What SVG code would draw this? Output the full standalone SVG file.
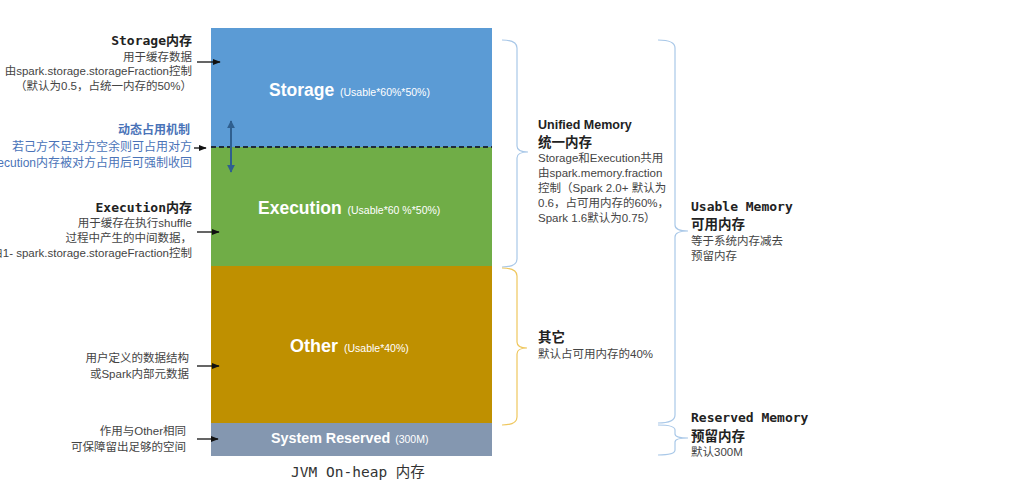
<svg xmlns="http://www.w3.org/2000/svg" width="1015" height="499" viewBox="0 0 1015 499">
<defs>
<marker id="ah" viewBox="0 0 10 10" refX="9" refY="5" markerWidth="6" markerHeight="6" orient="auto-start-reverse"><path d="M0,1 L10,5 L0,9 z" fill="#111"/></marker>
<marker id="ahb" viewBox="0 0 10 10" refX="9" refY="5" markerWidth="4" markerHeight="4" orient="auto-start-reverse"><path d="M0,0 L10,5 L0,10 z" fill="#2f5f8f"/></marker>
<style>
.ttl{font-family:"DejaVu Sans Mono","Noto Sans CJK SC",monospace;font-weight:bold;font-size:13px;fill:#222}
.bd{font-family:"Liberation Sans","Noto Sans CJK SC",sans-serif;font-size:11.5px;fill:#444}
.bdr{font-family:"Liberation Sans","Noto Sans CJK SC",sans-serif;font-size:11.5px;fill:#444}
.bdb{font-family:"Liberation Sans","Noto Sans CJK SC",sans-serif;font-size:12.5px;font-weight:bold;fill:#222}
.cjb{font-family:"Noto Sans CJK SC",sans-serif;font-size:13.5px;font-weight:bold;fill:#222}
.blk{font-family:"Liberation Sans",sans-serif;font-weight:bold;fill:#fff}
.sm{font-family:"Liberation Sans",sans-serif;font-size:10.5px;font-weight:normal;fill:#fff}
.blue{font-family:"Liberation Sans","Noto Sans CJK SC",sans-serif;font-size:12px;fill:#4a73b8}
.arr{stroke:#111;stroke-width:1.3;fill:none}
.brace{fill:none;stroke-width:1.2}
</style>
</defs>
<rect width="1015" height="499" fill="#fff"/>

<g id="storage">
<rect x="211" y="28" width="281" height="119" fill="#5b9bd5"/>
<text x="269" y="96" class="blk" font-size="17.5">Storage <tspan class="sm" dx="1">(Usable*60%*50%)</tspan></text>
</g>
<g id="execution">
<rect x="211" y="147" width="281" height="119" fill="#70ad47"/>
<text x="258" y="214" class="blk" font-size="17.5">Execution <tspan class="sm" dx="1">(Usable*60 %*50%)</tspan></text>
</g>
<g id="other">
<rect x="211" y="266" width="281" height="157" fill="#bf9000"/>
<text x="290" y="352" class="blk" font-size="18">Other <tspan class="sm" dx="1">(Usable*40%)</tspan></text>
</g>
<g id="reserved">
<rect x="211" y="423" width="281" height="33" fill="#8497b0"/>
<text x="271" y="443" class="blk" font-size="14.3">System Reserved <tspan class="sm" dx="1">(300M)</tspan></text>
</g>
<text x="358" y="477" text-anchor="middle" font-family="DejaVu Sans Mono,Noto Sans CJK SC,monospace" font-size="14.5" fill="#333">JVM On-heap 内存</text>

<g id="connectors">
<line x1="211" y1="147" x2="492" y2="147" stroke="#1e2b38" stroke-width="2" stroke-dasharray="5,3"/>
<line x1="231" y1="121" x2="231" y2="172" stroke="#2f5f8f" stroke-width="2" marker-start="url(#ahb)" marker-end="url(#ahb)"/>
<line x1="197" y1="62" x2="220" y2="62" class="arr" marker-end="url(#ah)"/>
<line x1="194" y1="148" x2="206" y2="148" class="arr" marker-end="url(#ah)"/>
<line x1="197" y1="232" x2="219" y2="232" class="arr" marker-end="url(#ah)"/>
<line x1="197" y1="366" x2="219" y2="366" class="arr" marker-end="url(#ah)"/>
<line x1="197" y1="439" x2="218" y2="439" class="arr" marker-end="url(#ah)"/>
<path class="brace" stroke="#a9c8e8" d="M502,40 Q517,40 517,48 L517,146 Q517,152 528,152 Q517,152 517,158 L517,259 Q517,267 502,267"/>
<path class="brace" stroke="#efc75e" d="M502,268 Q517,268 517,276 L517,342 Q517,348 527,348 Q517,348 517,354 L517,417 Q517,425 502,425"/>
<path class="brace" stroke="#a9c8e8" d="M658,40 Q675,40 675,48 L675,225 Q675,231 688,231 Q675,231 675,237 L675,415 Q675,423 658,423"/>
<path class="brace" stroke="#a9c8e8" d="M658,425 Q675,425 675,430 L675,434 Q675,438 688,438 Q675,438 675,442 L675,450 Q675,455 658,455"/>
</g>

<g id="storage-note">
<text x="192" y="45" text-anchor="end" class="ttl">Storage内存</text>
<text x="192" y="61" text-anchor="end" class="bd">用于缓存数据</text>
<text x="192" y="75" text-anchor="end" class="bd" font-size="11.2">由spark.storage.storageFraction控制</text>
<text x="192" y="90" text-anchor="end" class="bd">（默认为0.5，占统一内存的50%）</text>
</g>
<g id="dynamic-note">
<text x="190" y="134" text-anchor="end" class="blue" font-size="13.5" font-weight="bold">动态占用机制</text>
<text x="192" y="151" text-anchor="end" class="blue">若己方不足对方空余则可占用对方</text>
<text x="192" y="167" text-anchor="end" class="blue">Execution内存被对方占用后可强制收回</text>
</g>
<g id="execution-note">
<text x="192" y="212" text-anchor="end" class="ttl">Execution内存</text>
<text x="192" y="227" text-anchor="end" class="bd">用于缓存在执行shuffle</text>
<text x="192" y="242" text-anchor="end" class="bd">过程中产生的中间数据，</text>
<text x="192" y="257" text-anchor="end" class="bd" font-size="11.2">由1- spark.storage.storageFraction控制</text>
</g>
<g id="other-note">
<text x="189" y="362" text-anchor="end" class="bd">用户定义的数据结构</text>
<text x="189" y="378" text-anchor="end" class="bd">或Spark内部元数据</text>
</g>
<g id="reserved-note">
<text x="186" y="435" text-anchor="end" class="bd">作用与Other相同</text>
<text x="186" y="451" text-anchor="end" class="bd">可保障留出足够的空间</text>
</g>

<g id="unified">
<text x="538" y="129" class="bdb">Unified Memory</text>
<text x="538" y="147" class="cjb">统一内存</text>
<text x="538" y="162" class="bdr">Storage和Execution共用</text>
<text x="538" y="177" class="bdr">由spark.memory.fraction</text>
<text x="538" y="192" class="bdr">控制（Spark 2.0+ 默认为</text>
<text x="538" y="207" class="bdr">0.6，占可用内存的60%，</text>
<text x="538" y="222" class="bdr">Spark 1.6默认为0.75）</text>
</g>
<g id="other-brace">
<text x="538" y="342" class="cjb">其它</text>
<text x="538" y="358" class="bdr">默认占可用内存的40%</text>
</g>
<g id="usable">
<text x="691" y="211" class="ttl">Usable Memory</text>
<text x="691" y="229" class="cjb">可用内存</text>
<text x="691" y="245" class="bdr" font-size="12">等于系统内存减去</text>
<text x="691" y="260" class="bdr" font-size="12">预留内存</text>
</g>
<g id="reserved-brace">
<text x="691" y="422" class="ttl">Reserved Memory</text>
<text x="691" y="441" class="cjb">预留内存</text>
<text x="691" y="456" class="bdr">默认300M</text>
</g>
</svg>
